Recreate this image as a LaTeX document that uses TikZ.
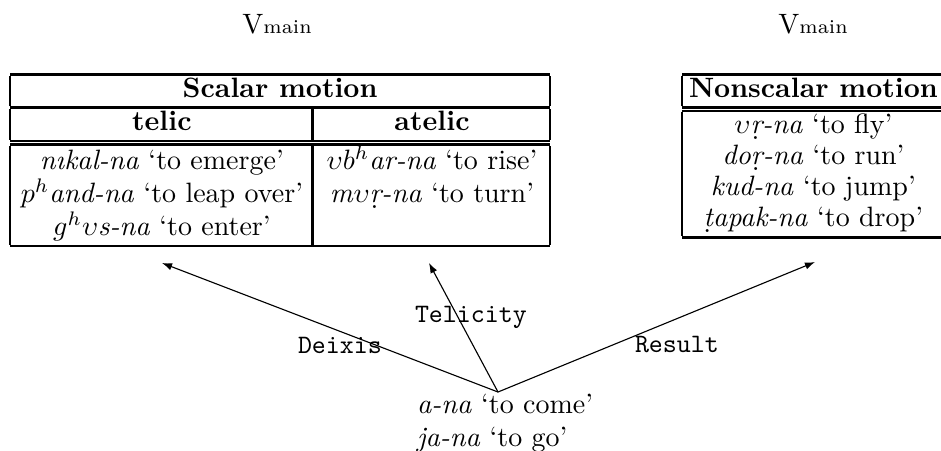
\documentclass[tikz,border=0pt]{standalone}
\usetikzlibrary{arrows.meta}

% table rules and spacing
\setlength{\arrayrulewidth}{0.9pt}
\setlength{\doublerulesep}{1.2pt}
\setlength{\tabcolsep}{2.5pt}
\renewcommand{\arraystretch}{0.92}

% dot below a letter (retroflex)
\newcommand{\udot}[1]{\leavevmode\setbox0\hbox{#1}%
  \rlap{\hbox to\wd0{\hss\kern-0.8pt\raisebox{-2.1pt}{\upshape.}\hss}}\box0}

\tikzset{
  tab/.style={inner sep=0pt, outer sep=0pt},
  txt/.style={inner sep=0pt, outer sep=0pt},
  lbl/.style={font=\fontsize{9.5}{11}\selectfont\ttfamily, inner sep=0pt, outer sep=0pt},
  conn/.style={-{Latex[length=3.6pt,width=2.6pt]}, line width=0.4pt},
}

\begin{document}
\begin{tikzpicture}[x=0.3571pt, y=-0.3571pt]
\useasboundingbox (0,0) rectangle (941,450);

% verb class tables
\node[tab, anchor=north west] (scalar) at (10,73) {%
\begin{tabular}{|@{\hspace{3.4pt}}c@{\hspace{3.4pt}}|@{\hspace{4.6pt}}c@{\hspace{4.6pt}}|}\hline
\multicolumn{2}{|c|}{\textbf{Scalar motion}}\\\hline
\textbf{telic} & \textbf{atelic}\\\hline\hline
\textit{n\i kal-na} `to emerge' & $\upsilon b^h$\textit{ar-na} `to rise'\\
$p^h$\textit{and-na} `to leap over' & \textit{m}$\upsilon$\textit{\udot{r}-na} `to turn'\\
$g^h\upsilon$\textit{s-na} `to enter' & \\\hline
\end{tabular}};

\node[tab, anchor=north west] (nonscalar) at (682,73) {%
\begin{tabular}{|c|}\hline
\textbf{Nonscalar motion}\\\hline\hline
$\upsilon$\textit{\udot{r}-na} `to fly'\\
\textit{do\udot{r}-na} `to run'\\
\textit{kud-na} `to jump'\\
\textit{\udot{t}apak-na} `to drop'\\\hline
\end{tabular}};

% column headings
\node[txt, anchor=base] (vmainL) at (277,33) {V{\scriptsize main}};
\node[txt, anchor=base] (vmainR) at (813,33) {V{\scriptsize main}};

% deictic verbs
\node[txt, anchor=base west] (come) at (417,413) {\textit{a-na} `to come'};
\node[txt, anchor=base west] (go) at (417,446) {\textit{ja-na} `to go'};

% arrow ends
\coordinate (apex) at (498,392);
\coordinate (tipT) at (162,263);
\coordinate (tipA) at (429,263);
\coordinate (tipN) at (815,262);

\draw[conn] (apex) -- (tipT);
\draw[conn] (apex) -- (tipA);
\draw[conn] (apex) -- (tipN);

% arrow labels
\node[lbl, anchor=base west] (deixis) at (298,353) {Deixis};
\node[lbl, anchor=base west] (telicity) at (415,322) {Telicity};
\node[lbl, anchor=base west] (result) at (635,352) {Result};
\end{tikzpicture}
\end{document}
